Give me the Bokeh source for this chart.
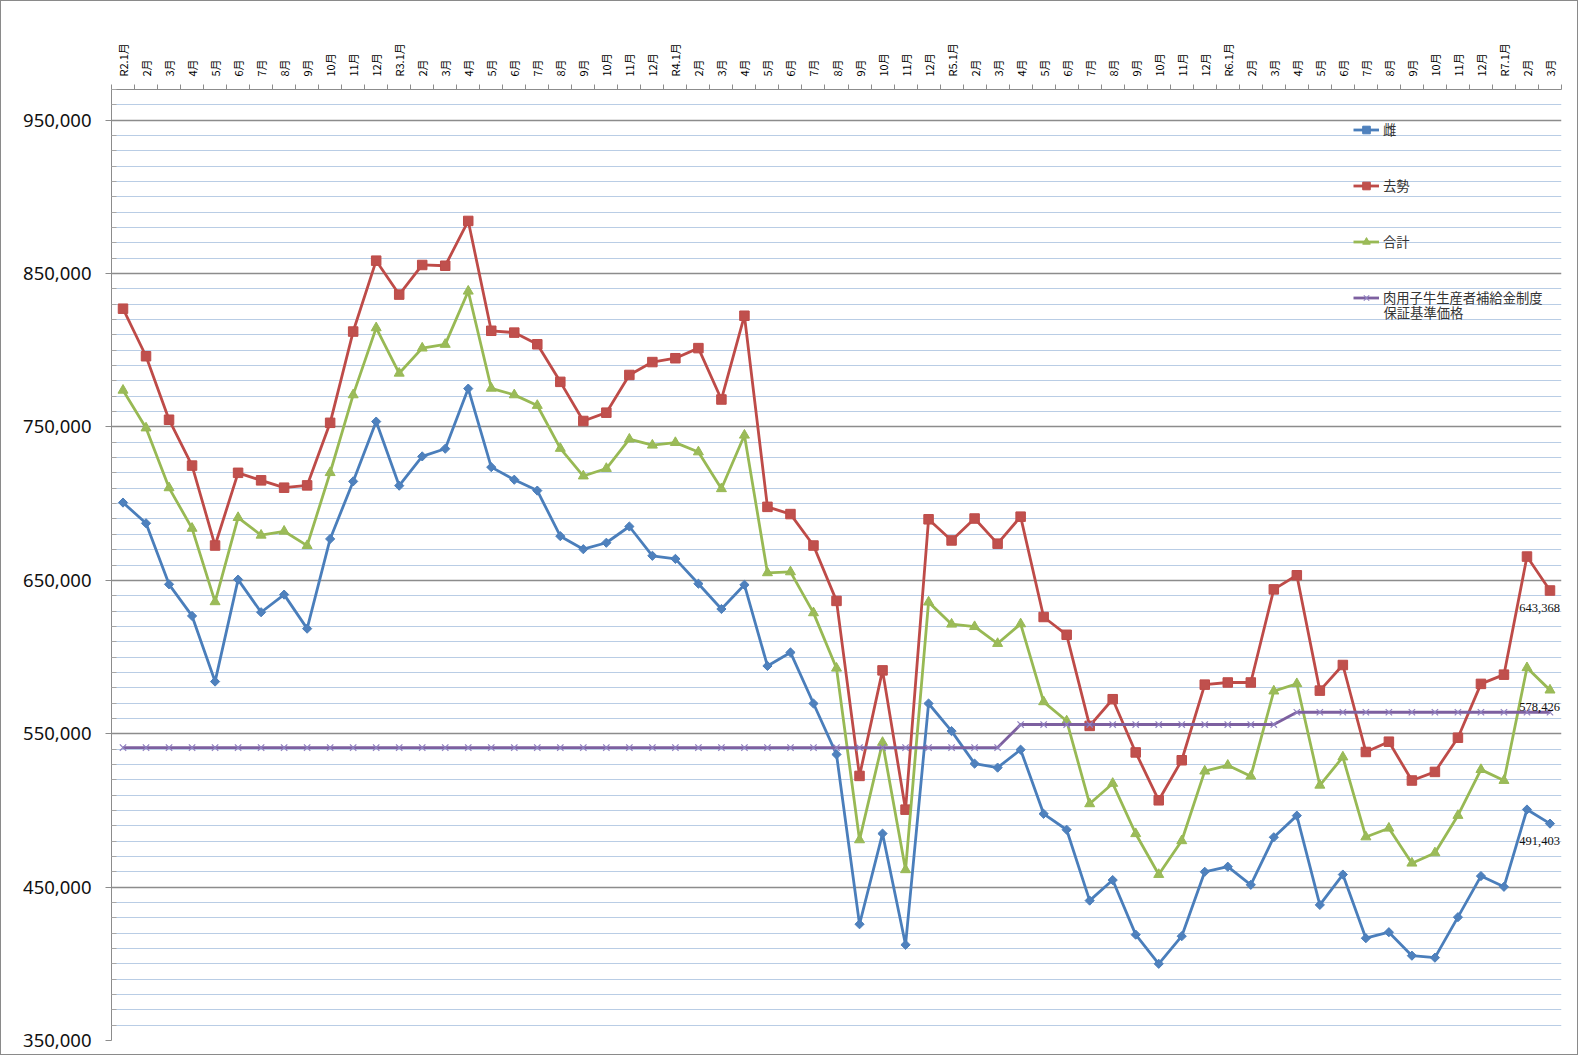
import numpy as np
from bokeh.plotting import figure
from bokeh.models import (Range1d, FixedTicker, NumeralTickFormatter, Legend, LegendItem,
                          Label, LabelSet, ColumnDataSource)
from bokeh.embed import file_html
from bokeh.resources import INLINE

# ---- data ----
years = ["R2", "R3", "R4", "R5", "R6", "R7"]
months_per_year = [12, 12, 12, 12, 12, 3]
month_labels = []
for yr, n in zip(years, months_per_year):
    for m in range(1, n + 1):
        month_labels.append(f"{yr}.1月" if m == 1 else f"{m}月")

female = [700700, 687200, 647400, 626800, 584000, 650500, 629200, 640700, 618500, 677000, 714500, 753500,
          711700, 730800, 735800, 775000, 723800, 715600, 708500, 678800, 670300, 674500, 685100, 666000,
          664000, 647800, 631300, 647100, 594200, 603000, 569700, 536500, 425800, 484900, 412400, 569700,
          551700, 530500, 527900, 539600, 497800, 487400, 441200, 454600, 419000, 400000, 418000, 460000,
          463300, 451500, 482500, 496600, 438400, 458200, 416700, 420600, 405300, 404000, 430400, 457200,
          450200, 500600, 491403]

steer = [827100, 796100, 754700, 724800, 672700, 720100, 715200, 710400, 711900, 752700, 812200, 858400,
         836300, 855600, 855100, 884300, 812700, 811500, 803900, 779400, 753900, 759300, 783900, 792300,
         794800, 801400, 767900, 822500, 697900, 693200, 672700, 636600, 522500, 591300, 500500, 689800,
         676000, 690300, 673900, 691500, 626100, 614500, 555100, 572500, 537800, 506600, 532700, 582000,
         583400, 583400, 644100, 653300, 578100, 594800, 538100, 544800, 519500, 525100, 547400, 582500,
         588500, 665500, 643368]

total = [773900, 749300, 710300, 683900, 636000, 690900, 679400, 682000, 672600, 720200, 770900, 814600,
         785000, 801400, 803800, 838500, 775200, 770900, 764000, 736000, 718000, 722900, 742000, 738100,
         739800, 733700, 709700, 744600, 654900, 655500, 628800, 592700, 480800, 544300, 461300, 635800,
         621400, 619800, 608800, 621600, 570800, 558300, 504300, 517600, 484800, 458200, 480200, 525600,
         529400, 522300, 577800, 582600, 516400, 534800, 482700, 488400, 465600, 472300, 496700, 526600,
         519500, 593000, 578426]

guarantee = [541000] * 39 + [556000] * 12 + [564000] * 12

series_names = ["雌", "去勢", "合計", "肉用子牛生産者補給金制度"]
legend_second_line = "保証基準価格"

y_major = [350000, 450000, 550000, 650000, 750000, 850000, 950000]
y_minor = [v for v in range(350000, 980000, 10000) if v not in y_major]

# ---- figure ----
n = len(month_labels)
xs = list(range(n))

p = figure(width=1578, height=1055,
           x_range=Range1d(-0.5, n - 0.5), y_range=Range1d(350000, 970000),
           x_axis_location="above", output_backend="svg", toolbar_location=None,
           min_border_left=110, min_border_right=18, min_border_top=88, min_border_bottom=16)
p.styles = {"border": "1px solid #8a8a8a"}
p.outline_line_color = None
p.background_fill_color = "white"
p.border_fill_color = "white"

# x axis (top)
xt = FixedTicker(ticks=xs, minor_ticks=[i - 0.5 for i in range(n + 1)])
xa = p.xaxis[0]
xa.ticker = xt
xa.major_label_overrides = {i: lab for i, lab in enumerate(month_labels)}
xa.major_label_orientation = "vertical"
xa.major_tick_line_color = None
xa.major_tick_out = 0
xa.major_tick_in = 0
xa.minor_tick_out = 5
xa.minor_tick_in = 0
xa.minor_tick_line_color = "#8c8c8c"
xa.axis_line_color = "#8c8c8c"
xa.major_label_standoff = 8
xa.major_label_text_font = "Noto Sans CJK JP"
xa.major_label_text_font_size = "11px"
xa.major_label_text_color = "#000000"
p.xgrid.grid_line_color = None

# y axis
yt = FixedTicker(ticks=y_major, minor_ticks=y_minor)
ya = p.yaxis[0]
ya.ticker = yt
ya.formatter = NumeralTickFormatter(format="0,0")
ya.axis_line_color = "#8c8c8c"
ya.major_tick_line_color = "#8c8c8c"
ya.major_tick_out = 6
ya.major_tick_in = 0
ya.minor_tick_line_color = "#a6a6a6"
ya.minor_tick_out = 0
ya.minor_tick_in = 5
ya.major_label_standoff = 14
ya.major_label_text_font = "Noto Sans"
ya.major_label_text_font_size = "18.5px"
ya.major_label_text_color = "#111111"
p.ygrid.ticker = yt
p.ygrid.grid_line_color = "#8c8c8c"
p.ygrid.grid_line_width = 1.3
p.ygrid.minor_grid_line_color = "#b9cde5"
p.ygrid.minor_grid_line_width = 1.2

# series
lw = 2.8
l1 = p.line(xs, female, line_color="#4a7ebb", line_width=lw)
s1 = p.scatter(xs, female, marker="square", angle=np.pi / 4, size=6.5,
               fill_color="#4f81bd", line_color="#4a7ebb")
l2 = p.line(xs, steer, line_color="#be4b48", line_width=lw)
s2 = p.scatter(xs, steer, marker="square", size=9.5, fill_color="#c0504d", line_color="#be4b48")
l3 = p.line(xs, total, line_color="#98b954", line_width=lw)
s3 = p.scatter(xs, total, marker="triangle", size=10, fill_color="#9bbb59", line_color="#98b954")
l4 = p.line(xs, guarantee, line_color="#7d60a0", line_width=lw)
s4 = p.scatter(xs, guarantee, marker="x", size=9, line_color="#9080c0", line_width=1.2)

legend = Legend(items=[LegendItem(label=series_names[0], renderers=[l1, s1]),
                       LegendItem(label=series_names[1], renderers=[l2, s2]),
                       LegendItem(label=series_names[2], renderers=[l3, s3]),
                       LegendItem(label=series_names[3], renderers=[l4, s4])],
                location=(1242, 733), glyph_width=26, glyph_height=19, label_height=19,
                spacing=37, padding=0, margin=0, border_line_color=None,
                background_fill_alpha=0, label_standoff=4,
                label_text_font="Noto Sans CJK JP", label_text_font_size="13.3px",
                label_text_color="#333333")
p.add_layout(legend)
p.add_layout(Label(x=1272, y=728, x_units="screen", y_units="screen", text=legend_second_line,
                   text_baseline="middle", text_font="Noto Sans CJK JP",
                   text_font_size="13.3px", text_color="#333333"))

# data labels on last points
last = n - 1
lab_src = ColumnDataSource(dict(x=[last, last, last],
                                y=[steer[last], total[last], female[last]],
                                t=[f"{steer[last]:,}", f"{total[last]:,}", f"{female[last]:,}"]))
p.add_layout(LabelSet(x="x", y="y", text="t", source=lab_src, y_offset=-13, x_offset=10,
                      text_align="right", text_baseline="top",
                      text_font="Roboto", text_font_size="12.5px", text_color="#111111"))

open("out.html", "w").write(file_html(p, INLINE))
